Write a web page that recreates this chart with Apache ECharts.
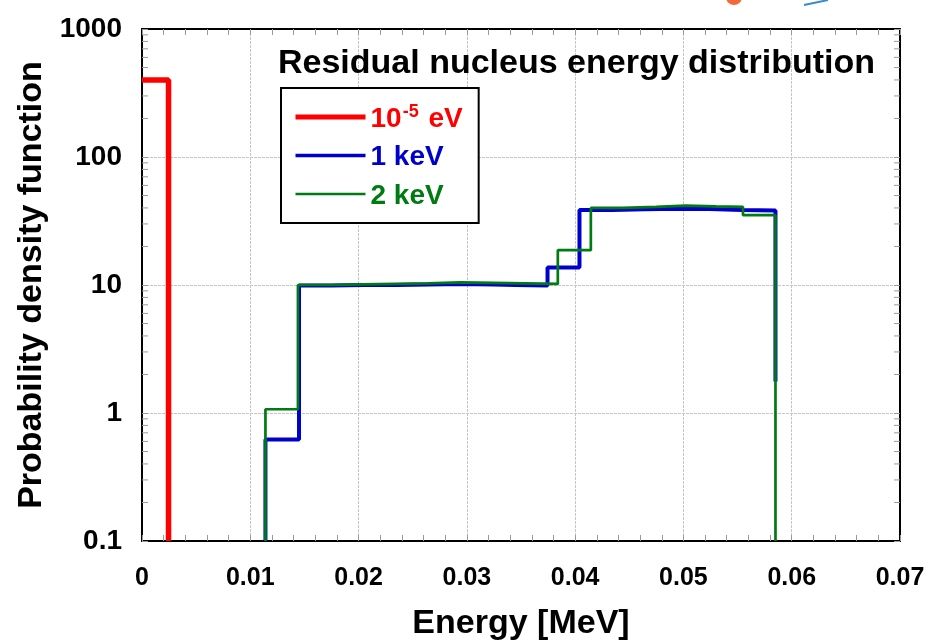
<!DOCTYPE html>
<html><head><meta charset="utf-8">
<script src="https://cdn.jsdelivr.net/npm/echarts@6/dist/echarts.min.js"></script>
<style>html,body{margin:0;padding:0;background:#fff}#c{width:943px;height:640px}</style>
</head><body><div id="c"></div>
<script>
// ---- data ----
const xMin = 0, xMax = 0.07, xStep = 0.01;
const yMin = 0.1, yMax = 1000;
const xTickLabels = ['0','0.01','0.02','0.03','0.04','0.05','0.06','0.07'];
const yTickLabels = ['0.1','1','10','100','1000'];
const yMinorTicks = [0.2,0.3,0.4,0.5,0.6,0.7,0.8,0.9, 2,3,4,5,6,7,8,9, 20,30,40,50,60,70,80,90, 200,300,400,500,600,700,800,900];
const seriesNames = ['10^-5 eV', '1 keV', '2 keV'];
const redEdges = [0, 0.00245];
const redValues = [400];
const redEnd = 0.1;
const blueEdges = [0.0114, 0.0145, 0.0175, 0.0205, 0.0235, 0.0265, 0.0295, 0.0325, 0.0345, 0.03745, 0.0404, 0.0434, 0.0464, 0.0494, 0.0524, 0.0554, 0.0585];
const blueValues = [0.62, 9.9, 10.0, 10.0, 10.1, 10.2, 10.1, 10.0, 9.9, 13.7, 38.5, 39.0, 39.5, 39.2, 38.5, 38.2];
const blueStart = 0.1, blueEnd = 1.76;
const greenEdges = [0.0114, 0.0144, 0.0174, 0.0204, 0.0234, 0.0264, 0.0294, 0.0324, 0.0354, 0.0384, 0.04145, 0.0444, 0.0475, 0.0502, 0.053, 0.0555, 0.0585];
const greenValues = [1.07, 10.0, 10.1, 10.2, 10.3, 10.5, 10.4, 10.3, 10.2, 18.7, 40.0, 40.7, 41.7, 41.1, 40.7, 35.1];
const greenStart = 0.1, greenEnd = 0.1;

function steps(edges, values, start, end) {
  const pts = [];
  if (start != null) pts.push([edges[0], start]);
  for (let i = 0; i < values.length; i++) pts.push([edges[i], values[i]]);
  pts.push([edges[edges.length - 1], end]);
  return pts;
}

const SANS = '"Liberation Sans", Arial, sans-serif';
const GRID = '#c4c4c4';
const TICK = '#9a9a9a';
const RED = '#ff0000', BLUE = '#0000cc', GREEN = '#007a12';

const chart = echarts.init(document.getElementById('c'), null, {renderer: 'canvas'});
chart.setOption({
  animation: false,
  backgroundColor: '#fff',
  title: {
    text: 'Residual nucleus energy distribution',
    left: 278, top: 47, padding: 0,
    textStyle: {fontFamily: SANS, fontWeight: 'bold', fontSize: 34, color: '#000'}
  },
  grid: {left: 142, right: 43, top: 29, bottom: 99, containLabel: false, outerBoundsMode: 'none'},
  legend: {
    data: [
      {name: seriesNames[0], textStyle: {color: RED}, lineStyle: {color: RED, width: 5}},
      {name: seriesNames[1], textStyle: {color: BLUE}, lineStyle: {color: BLUE, width: 3.5}},
      {name: seriesNames[2], textStyle: {color: GREEN}, lineStyle: {color: GREEN, width: 2.5}}
    ],
    orient: 'vertical', left: 281, top: 88,
    padding: [13, 16, 13, 12],
    itemWidth: 70, itemHeight: 14, itemGap: 6.5,
    borderColor: '#000', borderWidth: 2, backgroundColor: '#fff',
    itemStyle: {opacity: 0},
    selectedMode: false,
    formatter: function (name) {
      if (name === seriesNames[0]) return '{r|10}{s|-5}{r| eV}';
      if (name === seriesNames[1]) return '{b|1 keV}';
      return '{g|2 keV}';
    },
    textStyle: {
      fontFamily: SANS, fontWeight: 'bold', fontSize: 28, lineHeight: 28,
      rich: {
        r: {color: RED, fontFamily: SANS, fontWeight: 'bold', fontSize: 28, lineHeight: 28, padding: [4, 0, 0, 0]},
        s: {color: RED, fontFamily: SANS, fontWeight: 'bold', fontSize: 18, lineHeight: 18, verticalAlign: 'top', padding: [0, 2, 0, 1]},
        b: {color: BLUE, fontFamily: SANS, fontWeight: 'bold', fontSize: 28, lineHeight: 28, padding: [4, 0, 0, 0]},
        g: {color: GREEN, fontFamily: SANS, fontWeight: 'bold', fontSize: 28, lineHeight: 28, padding: [4, 0, 0, 0]}
      }
    }
  },
  xAxis: [{
    type: 'value', min: xMin, max: xMax, interval: xStep, position: 'bottom',
    name: 'Energy [MeV]', nameLocation: 'middle', nameGap: 66,
    nameTextStyle: {fontFamily: SANS, fontWeight: 'bold', fontSize: 34, color: '#000'},
    axisLine: {show: true, onZero: false, lineStyle: {color: '#000', width: 2}},
    axisTick: {show: true, inside: true, length: 6, lineStyle: {color: TICK}},
    minorTick: {show: true, splitNumber: 5, length: 6, lineStyle: {color: TICK}},
    splitLine: {show: true, lineStyle: {color: GRID, width: 1, type: [3, 1]}},
    axisLabel: {
      margin: 25, fontFamily: SANS, fontWeight: 'bold', fontSize: 25, color: '#000',
      formatter: function (v) { return xTickLabels[Math.round(v / xStep)]; }
    }
  }, {
    type: 'value', min: xMin, max: xMax, interval: xStep, position: 'top',
    axisLine: {show: true, onZero: false, lineStyle: {color: '#000', width: 2}},
    axisTick: {show: true, inside: true, length: 6, lineStyle: {color: TICK}},
    minorTick: {show: true, splitNumber: 5, length: 6, lineStyle: {color: TICK}},
    splitLine: {show: false}, axisLabel: {show: false}
  }],
  yAxis: [{
    type: 'log', logBase: 10, min: yMin, max: yMax, position: 'left',
    name: 'Probability density function', nameLocation: 'middle', nameGap: 88,
    nameTextStyle: {fontFamily: SANS, fontWeight: 'bold', fontSize: 34, color: '#000'},
    axisLine: {show: true, onZero: false, lineStyle: {color: '#000', width: 2}},
    axisTick: {show: true, inside: true, length: 6, lineStyle: {color: TICK}},
    splitLine: {show: true, lineStyle: {color: GRID, width: 1, type: [3, 1]}},
    axisLabel: {
      margin: 20, fontFamily: SANS, fontWeight: 'bold', fontSize: 28, color: '#000',
      formatter: function (v) { return yTickLabels[Math.round(Math.log10(v) + 1)]; }
    }
  }, {
    type: 'log', logBase: 10, min: yMin, max: yMax, position: 'right',
    axisLine: {show: true, onZero: false, lineStyle: {color: '#000', width: 2}},
    axisTick: {show: true, inside: true, length: 6, lineStyle: {color: TICK}},
    splitLine: {show: false}, axisLabel: {show: false}
  }],
  series: [
    {
      type: 'custom', name: 'minorTicks', silent: true, clip: false,
      xAxisIndex: 0, yAxisIndex: 0,
      data: yMinorTicks.map(function (v) { return [xMin, v]; }),
      encode: {x: 0, y: 1},
      renderItem: function (params, api) {
        const v = api.value(1);
        const l = api.coord([xMin, v]);
        const r = api.coord([xMax, v]);
        return {type: 'group', children: [
          {type: 'line', shape: {x1: l[0], y1: l[1], x2: l[0] + 6, y2: l[1]}, style: {stroke: TICK, lineWidth: 1}},
          {type: 'line', shape: {x1: r[0], y1: r[1], x2: r[0] - 6, y2: r[1]}, style: {stroke: TICK, lineWidth: 1}}
        ]};
      }
    },
    {
      type: 'line', name: seriesNames[0], step: 'end', showSymbol: false, symbol: 'none',
      data: steps(redEdges, redValues, null, redEnd),
      lineStyle: {color: RED, width: 5.5}, itemStyle: {color: RED}, z: 3
    },
    {
      type: 'line', name: seriesNames[1], step: 'end', showSymbol: false, symbol: 'none',
      data: steps(blueEdges, blueValues, blueStart, blueEnd),
      lineStyle: {color: BLUE, width: 4}, itemStyle: {color: BLUE}, z: 4
    },
    {
      type: 'line', name: seriesNames[2], step: 'end', showSymbol: false, symbol: 'none',
      data: steps(greenEdges, greenValues, greenStart, greenEnd),
      lineStyle: {color: GREEN, width: 2.7}, itemStyle: {color: GREEN}, z: 5
    }
  ],
  graphic: [
    {type: 'circle', shape: {cx: 734, cy: -3, r: 8}, style: {fill: '#f26a3a'}, silent: true},
    {type: 'line', shape: {x1: 804, y1: 5, x2: 828, y2: 0}, style: {stroke: '#3a8ad0', lineWidth: 2}, silent: true}
  ]
});
</script>
</body></html>
